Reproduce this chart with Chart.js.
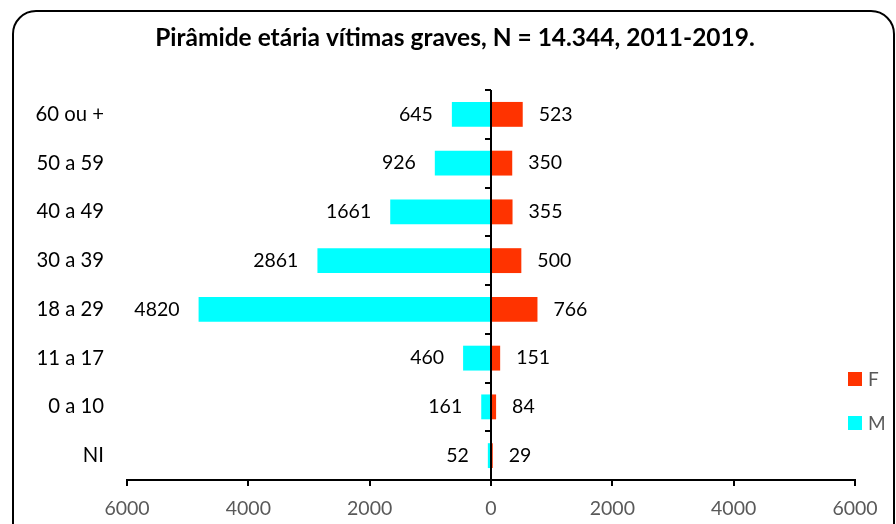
<!DOCTYPE html>
<html lang="pt">
<head>
  <meta charset="UTF-8">
  <title>Pirâmide etária vítimas graves</title>
  <script src="https://cdn.jsdelivr.net/npm/chart.js"></script>
  <style>
    body { margin: 0; background: #fff; }
    #wrap { position: relative; width: 896px; height: 524px; overflow: hidden; }
    #moldura {
      position: absolute; left: 12px; top: 10px;
      width: 879px; height: 560px;
      border: 2px solid #000; border-radius: 24px;
    }
    #grafico { position: absolute; left: 0; top: 0; }
  </style>
</head>
<body>

<div id="wrap">
  <div id="moldura"></div>
  <canvas id="grafico" width="896" height="524"></canvas>
</div>

<script>
  const titulo = 'Pirâmide etária vítimas graves, N = 14.344, 2011-2019.';
  // faixas etárias, de cima para baixo
  const faixas = ['60 ou +', '50 a 59', '40 a 49', '30 a 39', '18 a 29', '11 a 17', '0 a 10', 'NI'];
  const masculino = [645, 926, 1661, 2861, 4820, 460, 161, 52];
  const feminino = [523, 350, 355, 500, 766, 151, 84, 29];
  const marcasX = [-6000, -4000, -2000, 0, 2000, 4000, 6000];

  const FONTE = 'Lato, "Open Sans", sans-serif';
  const CINZA = '#595959';

  // título, eixo vertical no zero, rótulos das barras e legenda
  const piramide = {
    id: 'piramide',
    afterDatasetsDraw(chart) {
      const ctx = chart.ctx;
      const sx = chart.scales.x, sy = chart.scales.y;
      const area = chart.chartArea;
      const opt = chart.options.plugins.piramide;
      const x0 = sx.getPixelForValue(0);
      ctx.save();

      // título centrado na moldura
      ctx.fillStyle = '#000';
      ctx.font = 'bold 24.5px ' + FONTE;
      ctx.textAlign = 'center';
      ctx.textBaseline = 'middle';
      ctx.fillText(titulo, opt.tituloX, opt.tituloY);

      ctx.strokeStyle = '#000';
      ctx.lineWidth = 2;
      ctx.beginPath();
      ctx.moveTo(x0, area.top);
      ctx.lineTo(x0, area.bottom);
      ctx.stroke();

      // marcas entre as faixas
      for (let i = 0; i < faixas.length; i++) {
        const yy = Math.round(sy.getPixelForValue(i - 0.5));
        ctx.beginPath();
        ctx.moveTo(x0 - 6, yy);
        ctx.lineTo(x0, yy);
        ctx.stroke();
      }

      ctx.font = '19.5px ' + FONTE;
      chart.data.datasets.forEach((ds, d) => {
        const meta = chart.getDatasetMeta(d);
        meta.data.forEach((bar, i) => {
          const v = ds.data[i];
          const txt = String(Math.abs(v));
          if (v < 0) {
            ctx.textAlign = 'right';
            ctx.fillText(txt, bar.x - 19, bar.y);
          } else {
            ctx.textAlign = 'left';
            ctx.fillText(txt, bar.x + 16, bar.y);
          }
        });
      });

      // legenda: F acima, M abaixo
      const itens = chart.data.datasets.slice().reverse();
      ctx.font = '19px ' + FONTE;
      ctx.textAlign = 'left';
      itens.forEach((ds, k) => {
        const y = opt.legY + k * opt.legGap;
        ctx.fillStyle = ds.backgroundColor;
        ctx.fillRect(opt.legX, y - 7, 14, 14);
        ctx.fillStyle = CINZA;
        ctx.fillText(ds.label, opt.legX + 20, y + 1);
      });
      ctx.restore();
    }
  };

  new Chart(document.getElementById('grafico'), {
    type: 'bar',
    data: {
      labels: faixas,
      datasets: [
        {
          label: 'M',
          data: masculino.map(v => -v),
          backgroundColor: '#00FFFF',
          barPercentage: 0.51,
          categoryPercentage: 1
        },
        {
          label: 'F',
          data: feminino,
          backgroundColor: '#FF3300',
          barPercentage: 0.51,
          categoryPercentage: 1
        }
      ]
    },
    options: {
      indexAxis: 'y',
      responsive: false,
      animation: false,
      layout: { padding: { left: 14, right: 41, top: 90, bottom: 0 } },
      scales: {
        x: {
          stacked: true,
          min: -6000,
          max: 6000,
          afterBuildTicks: s => { s.ticks = marcasX.map(v => ({ value: v })); },
          afterFit: s => { s.height = 44; },
          grid: { drawOnChartArea: false, drawTicks: true, tickLength: 6, color: '#000', lineWidth: 2 },
          border: { display: true, color: '#000', width: 2 },
          ticks: {
            color: CINZA,
            padding: 12,
            font: { family: FONTE, size: 19.5, lineHeight: 1.1 },
            callback: v => Math.abs(v)
          }
        },
        y: {
          stacked: true,
          grid: { display: false, drawTicks: false },
          border: { display: false },
          afterFit: s => { s.width = 113; },
          ticks: {
            color: '#000',
            padding: 23,
            font: { family: FONTE, size: 20.3 }
          }
        }
      },
      plugins: {
        legend: { display: false },
        tooltip: { enabled: false },
        title: { display: false },
        piramide: { tituloX: 455, tituloY: 38, legX: 848, legY: 379, legGap: 44 }
      }
    },
    plugins: [piramide]
  });
</script>

</body>
</html>
